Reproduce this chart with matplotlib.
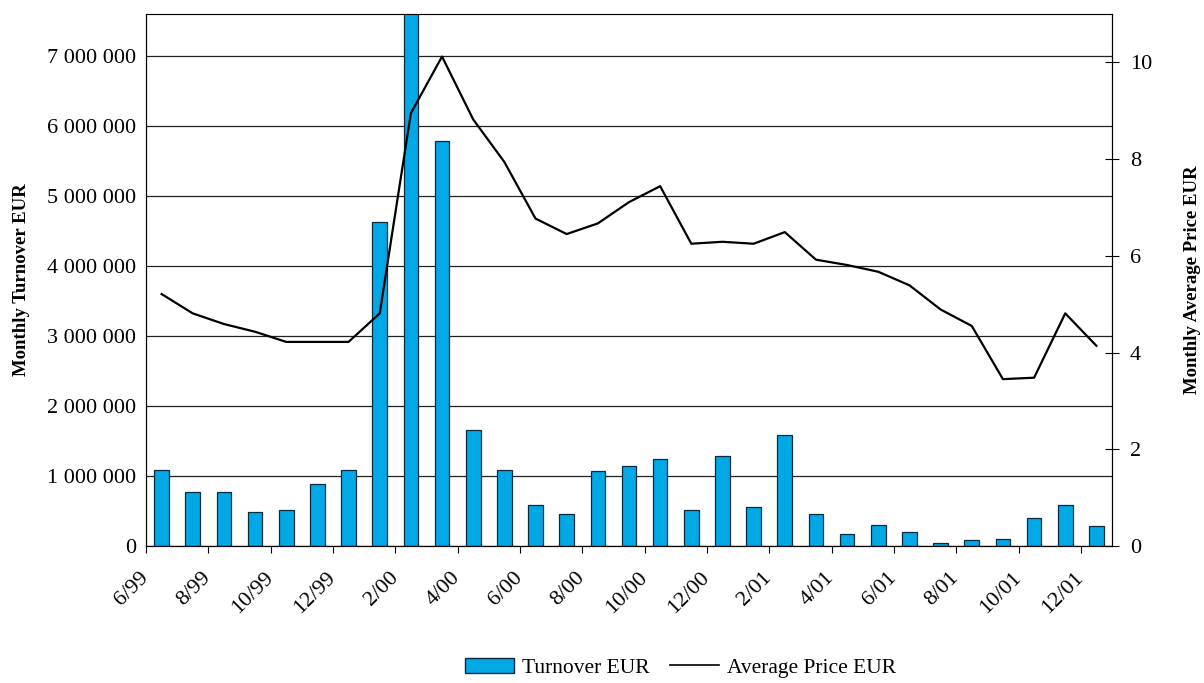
import matplotlib
matplotlib.use("Agg")
import matplotlib.pyplot as plt
import matplotlib.transforms as mtransforms
from matplotlib.ticker import FuncFormatter
from matplotlib.lines import Line2D
from matplotlib.patches import Patch

months = ["6/99", "7/99", "8/99", "9/99", "10/99", "11/99", "12/99", "1/00", "2/00", "3/00",
          "4/00", "5/00", "6/00", "7/00", "8/00", "9/00", "10/00", "11/00", "12/00", "1/01",
          "2/01", "3/01", "4/01", "5/01", "6/01", "7/01", "8/01", "9/01", "10/01", "11/01", "12/01"]
turnover = [1.08, 0.77, 0.77, 0.48, 0.51, 0.89, 1.08, 4.63, 7.9, 5.78,
            1.66, 1.09, 0.59, 0.46, 1.07, 1.14, 1.25, 0.51, 1.28, 0.56,
            1.59, 0.46, 0.17, 0.30, 0.20, 0.05, 0.08, 0.10, 0.40, 0.59, 0.28]
turnover = [v * 1e6 for v in turnover]
avg_price = [5.21, 4.81, 4.59, 4.43, 4.22, 4.22, 4.22, 4.81, 8.95, 10.12,
             8.82, 7.94, 6.77, 6.45, 6.67, 7.11, 7.44, 6.25, 6.29, 6.25,
             6.49, 5.92, 5.81, 5.67, 5.39, 4.89, 4.55, 3.45, 3.48, 4.81, 4.14]

plt.rcParams['font.family'] = ['Liberation Serif', 'DejaVu Serif']
plt.rcParams['font.size'] = 16

fig = plt.figure(figsize=(12.04, 6.83), dpi=100)
ax = fig.add_axes([146 / 1204, 137 / 683, 966 / 1204, 532 / 683])
x = list(range(len(months)))

ax.set_axisbelow(True)
ax.grid(axis='y', color='#222222', linewidth=0.9)
ax.bar(x, turnover, width=0.47, color='#00A8E6', edgecolor='#0a2a40', linewidth=0.9, zorder=2)
ax.set_ylim(0, 7.6e6)
ax.set_xlim(-0.5, len(months) - 0.5)
ax.set_yticks([i * 1e6 for i in range(8)])
ax.yaxis.set_major_formatter(FuncFormatter(lambda v, p: f"{int(v):,}".replace(",", " ")))
ax.set_xticks([i - 0.5 for i in range(0, len(months), 2)])
ax.set_xticklabels(months[::2], rotation=45, ha='right', va='center', rotation_mode='anchor')
offset = mtransforms.ScaledTranslation(4 / 100, 0, fig.dpi_scale_trans)
for lbl in ax.get_xticklabels():
    lbl.set_transform(lbl.get_transform() + offset)
ax.tick_params(axis='x', length=5, pad=16)
ax.tick_params(axis='y', length=0, pad=7)
ax.set_ylabel("Monthly Turnover EUR", fontweight='bold', fontsize=13.5, labelpad=12)
ax.spines['top'].set_color('#888888')

ax2 = ax.twinx()
ax2.plot(x, avg_price, color='black', linewidth=1.6, zorder=3)
ax2.set_ylim(0, 11)
ax2.set_yticks(range(0, 11, 2))
ax2.tick_params(axis='y', direction='inout', length=10, pad=8)
ax2.set_ylabel("Monthly Average Price EUR", fontweight='bold', fontsize=13.5, labelpad=23)

handles = [Patch(facecolor='#00A8E6', edgecolor='#0a2a40', label='Turnover EUR'),
           Line2D([0], [0], color='black', linewidth=1.2, label='Average Price EUR')]
fig.legend(handles=handles, loc='center', bbox_to_anchor=(0.565, 0.022), ncol=2, frameon=False,
           handlelength=2.3, handleheight=0.7, handletextpad=0.35, columnspacing=0.95, fontsize=15.5)

plt.savefig("out.png", dpi=100)
